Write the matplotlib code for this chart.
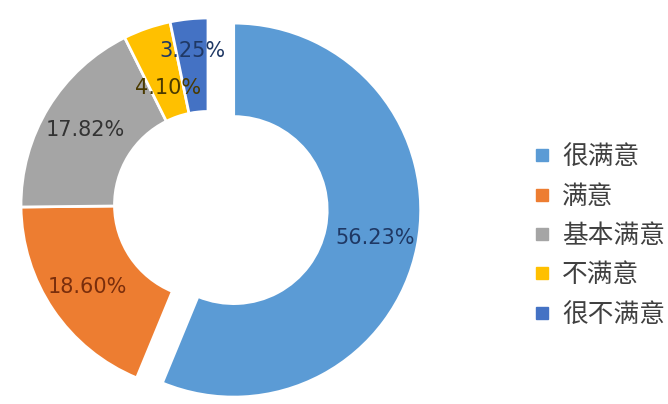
import numpy as np
import matplotlib.pyplot as plt
from matplotlib.lines import Line2D

plt.rcParams['font.family'] = ['Noto Sans CJK SC', 'DejaVu Sans']

categorias = ["很满意", "满意", "基本满意", "不满意", "很不满意"]
valores = [56.23, 18.60, 17.82, 4.10, 3.25]
rotulos = ["56.23%", "18.60%", "17.82%", "4.10%", "3.25%"]

cores = ["#5B9BD5", "#ED7D31", "#A5A5A5", "#FFC000", "#4472C4"]
cores_texto = ["#1F3864", "#7A2E0C", "#333333", "#4A3A00", "#1F3864"]
explodir = [0.14, 0, 0, 0, 0]
dist_rotulo = [0.77, 0.78, 0.77, 0.66, 0.83]

W, H = 668, 404
R = 187.0          # raio em pixels
cx, cy = 208, 205  # centro (cy medido do topo)

fig = plt.figure(figsize=(W / 100, H / 100), dpi=100)
ax = fig.add_axes([0, 0, 1, 1])

# Gerando o gráfico de rosca
fatias, _ = ax.pie(valores, colors=cores, startangle=90, counterclock=False,
                   explode=explodir, radius=1.0,
                   wedgeprops=dict(width=0.5, edgecolor="white", linewidth=2))

# o pie redefine os limites, então ajusta depois
ax.set_xlim(-cx / R, (W - cx) / R)
ax.set_ylim(-(H - cy) / R, cy / R)
ax.axis("off")

# rótulos de porcentagem
for f, txt, d, c in zip(fatias, rotulos, dist_rotulo, cores_texto):
    ang = np.deg2rad((f.theta1 + f.theta2) / 2)
    x0, y0 = f.center
    ax.text(x0 + d * np.cos(ang), y0 + d * np.sin(ang), txt,
            ha="center", va="center", fontsize=15, color=c,
            family=["DejaVu Sans"])

# Legendas
alcas = [Line2D([], [], marker="s", linestyle="none", markersize=8,
                markerfacecolor=c, markeredgecolor=c) for c in cores]
fig.legend(alcas, categorias, loc="center left", bbox_to_anchor=(0.781, 0.416),
           frameon=False, fontsize=18.5, handlelength=0.8, handletextpad=0.38,
           labelspacing=0.52, borderaxespad=0, labelcolor="#404040")

plt.savefig("out.png", dpi=100)
